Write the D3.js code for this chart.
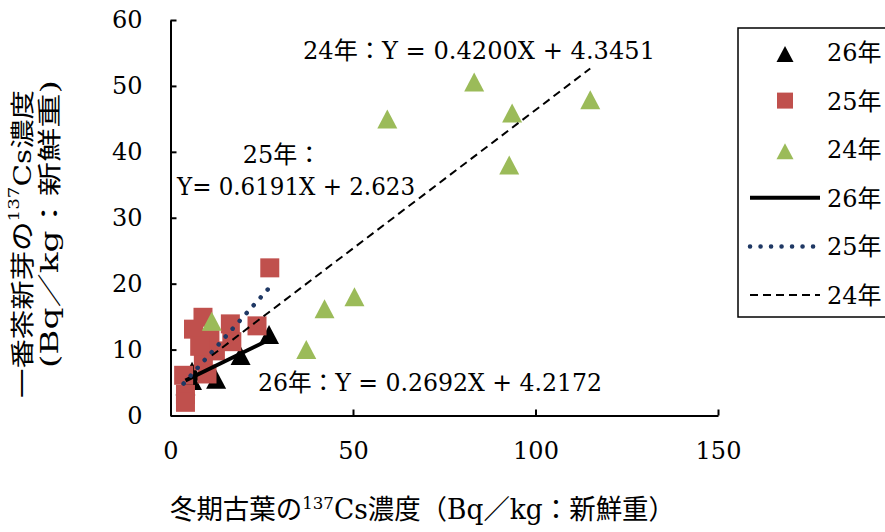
<!DOCTYPE html>
<html>
<head>
<meta charset="utf-8">
<script src="https://cdn.jsdelivr.net/npm/d3@7"></script>
<style>
  html, body { margin: 0; padding: 0; background: #fff; }
  svg { display: block; }
  text { font-family: 'DejaVu Serif', 'Noto Sans CJK JP', serif; fill: #000; }
</style>
</head>
<body>
<svg id="chart" width="885" height="532"></svg>
<script>
// ---- data ----
const seriesNames = ["26年", "25年", "24年"];
const x26 = [4.1, 5.9, 5.9, 12.5, 19.2, 27.0];
const y26 = [4.5, 6.7, 5.3, 5.5, 9.1, 12.3];
const x25 = [27.2, 23.7, 16.4, 16.8, 8.9, 6.3, 10.8, 12.3, 9.0, 10.0, 3.6, 4.1, 4.1, 8.0];
const y25 = [22.4, 13.6, 13.9, 11.2, 14.9, 13.1, 11.5, 9.8, 8.3, 6.3, 6.1, 3.2, 2.0, 10.5];
const x24 = [11.3, 37.2, 42.2, 50.4, 59.4, 83.2, 92.8, 93.6, 115.0];
const y24 = [14.3, 10.0, 16.2, 18.0, 45.0, 50.6, 38.0, 45.9, 47.9];
const slopes = [0.2692, 0.6191, 0.4200];
const intercepts = [4.2172, 2.623, 4.3451];
const xTicks = [0, 50, 100, 150];
const yTicks = [0, 10, 20, 30, 40, 50, 60];
const eqLabels = ["26年：Y = 0.2692X + 4.2172", "Y= 0.6191X + 2.623", "24年：Y = 0.4200X + 4.3451"];
const eqLabel25Head = "25年：";

// ---- setup ----
const svg = d3.select("#chart");
const x = d3.scaleLinear().domain([0, 150]).range([170.5, 718]);
const y = d3.scaleLinear().domain([0, 60]).range([415.5, 20]);

// axes
const gx = svg.append("g").attr("transform", "translate(0,415.5)")
  .call(d3.axisBottom(x).tickValues(xTicks).tickSizeInner(-6).tickSizeOuter(0).tickPadding(26).tickFormat(d3.format("d")));
const gy = svg.append("g").attr("transform", "translate(170.5,0)")
  .call(d3.axisLeft(y).tickValues(yTicks).tickSizeInner(-6).tickSizeOuter(0).tickPadding(28).tickFormat(d3.format("d")));
[gx, gy].forEach(g => {
  g.selectAll("path.domain").attr("stroke", "#000").attr("stroke-width", 2);
  g.selectAll(".tick line").attr("stroke", "#000").attr("stroke-width", 2);
  g.selectAll(".tick text").attr("font-size", 24).attr("font-family", "'DejaVu Serif', serif").attr("fill", "#000");
});

// symbol types
const triType = {
  draw(ctx, size) {
    const w = Math.sqrt(size), h = w * 0.95;
    ctx.moveTo(0, -h / 2);
    ctx.lineTo(w / 2, h / 2);
    ctx.lineTo(-w / 2, h / 2);
    ctx.closePath();
  }
};
const sqGen = d3.symbol().type(d3.symbolSquare);
const triGen = d3.symbol().type(triType);

const series = [
  { xs: x26, ys: y26, gen: triGen, size: 400, color: "#000000" },
  { xs: x25, ys: y25, gen: sqGen, size: 361, color: "#C0504D" },
  { xs: x24, ys: y24, gen: triGen, size: 400, color: "#9BBB59" }
];

series.forEach(s => {
  svg.append("g").selectAll("path")
    .data(s.xs.map((v, i) => [v, s.ys[i]]))
    .join("path")
    .attr("d", s.gen.size(s.size)())
    .attr("transform", d => `translate(${x(d[0])},${y(d[1])})`)
    .attr("fill", s.color);
});

// trend lines
const lineStyles = [
  { stroke: "#000", width: 4, dash: null, cap: "butt" },
  { stroke: "#1F3864", width: 4.5, dash: "0.1 10.4", cap: "round" },
  { stroke: "#000", width: 2, dash: "8 5", cap: "butt" }
];
const line = d3.line().x(d => x(d[0])).y(d => y(d[1]));
[0, 1, 2].forEach(i => {
  const s = series[i];
  const [x0, x1] = d3.extent(s.xs);
  const pts = [[x0, slopes[i] * x0 + intercepts[i]], [x1, slopes[i] * x1 + intercepts[i]]];
  const st = lineStyles[i];
  svg.append("path").attr("d", line(pts)).attr("fill", "none")
    .attr("stroke", st.stroke).attr("stroke-width", st.width)
    .attr("stroke-dasharray", st.dash).attr("stroke-linecap", st.cap);
});

// equation labels
svg.append("text").attr("x", 303).attr("y", 59).attr("font-size", 24)
  .attr("textLength", 352).attr("lengthAdjust", "spacingAndGlyphs").text(eqLabels[2]);
svg.append("text").attr("x", 282).attr("y", 163).attr("font-size", 24).attr("text-anchor", "middle").text(eqLabel25Head);
svg.append("text").attr("x", 177).attr("y", 195).attr("font-size", 24)
  .attr("textLength", 238).attr("lengthAdjust", "spacingAndGlyphs").text(eqLabels[1]);
svg.append("text").attr("x", 258).attr("y", 391).attr("font-size", 24)
  .attr("textLength", 344).attr("lengthAdjust", "spacingAndGlyphs").text(eqLabels[0]);

// axis titles
function titleWithSup(sel, parts, supSize, shift) {
  sel.append("tspan").text(parts[0]);
  sel.append("tspan").attr("font-size", supSize).attr("dy", -shift).text(parts[1]);
  sel.append("tspan").attr("dy", shift).text(parts[2]);
}
const xt = svg.append("text").attr("x", 170).attr("y", 519).attr("font-size", 27)
  .attr("textLength", 505).attr("lengthAdjust", "spacingAndGlyphs");
titleWithSup(xt, ["冬期古葉の", "137", "Cs濃度（Bq／kg：新鮮重）"], 17, 10);

const yt1 = svg.append("text").attr("transform", "translate(23,398) rotate(-90)")
  .attr("font-size", 24).attr("dominant-baseline", "central")
  .attr("textLength", 308).attr("lengthAdjust", "spacingAndGlyphs");
titleWithSup(yt1, ["一番茶新芽の", "137", "Cs濃度"], 15, 9);
svg.append("text").attr("transform", "translate(50,368) rotate(-90)")
  .attr("font-size", 24).attr("dominant-baseline", "central")
  .attr("textLength", 288).attr("lengthAdjust", "spacingAndGlyphs")
  .text("(Bq／kg：新鮮重)");

// legend
const lg = svg.append("g");
lg.append("rect").attr("x", 738).attr("y", 28).attr("width", 200).attr("height", 289)
  .attr("fill", "#fff").attr("stroke", "#000").attr("stroke-width", 1.5);
const rowY = d3.range(6).map(i => 52 + i * 48.6);
const legendLabels = seriesNames.concat(seriesNames);
series.forEach((s, i) => {
  lg.append("path").attr("d", s.gen.size(i === 1 ? 256 : 289)())
    .attr("transform", `translate(785,${rowY[i] + (i === 1 ? 0 : 2)})`).attr("fill", s.color);
});
lineStyles.forEach((st, i) => {
  lg.append("line").attr("x1", 750).attr("x2", 820).attr("y1", rowY[i + 3]).attr("y2", rowY[i + 3])
    .attr("stroke", st.stroke).attr("stroke-width", st.width)
    .attr("stroke-dasharray", st.dash).attr("stroke-linecap", st.cap);
});
legendLabels.forEach((t, i) => {
  lg.append("text").attr("x", 827).attr("y", rowY[i] + 9).attr("font-size", 24).text(t);
});
</script>
</body>
</html>
